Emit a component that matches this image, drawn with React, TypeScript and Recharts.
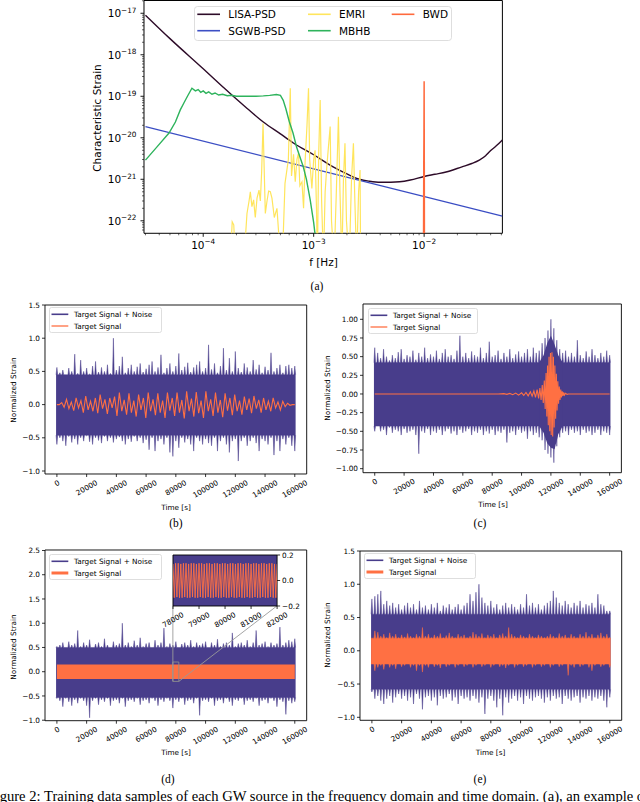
import React from 'react'
import {
  Area,
  ComposedChart,
  Line,
  ReferenceArea,
  ReferenceLine,
  XAxis,
  YAxis,
} from 'recharts'

const SANS = '"DejaVu Sans", Verdana, sans-serif'
const SERIF = '"Liberation Serif", "Times New Roman", serif'
const INK = '#000'
const NOISE = '#483d8b'
const SIGNAL = '#ff7043'

// ---------- (a) characteristic strain vs frequency, [f (Hz), h_c] ----------
const freqDomain = [2.91e-5, 5.11e-2]
const strainDomain = [5.0e-23, 2.03e-17]
const freqTicks = [
  3e-5, 4e-5, 5e-5, 6e-5, 7e-5, 8e-5, 9e-5, 1e-4, 2e-4, 3e-4, 4e-4, 5e-4, 6e-4, 7e-4, 8e-4, 9e-4,
  1e-3, 2e-3, 3e-3, 4e-3, 5e-3, 6e-3, 7e-3, 8e-3, 9e-3, 1e-2, 2e-2, 3e-2, 4e-2, 5e-2,
]
const strainTicks = [
  6e-23, 7e-23, 8e-23, 9e-23, 1e-22, 2e-22, 3e-22, 4e-22, 5e-22, 6e-22, 7e-22, 8e-22, 9e-22,
  1e-21, 2e-21, 3e-21, 4e-21, 5e-21, 6e-21, 7e-21, 8e-21, 9e-21,
  1e-20, 2e-20, 3e-20, 4e-20, 5e-20, 6e-20, 7e-20, 8e-20, 9e-20,
  1e-19, 2e-19, 3e-19, 4e-19, 5e-19, 6e-19, 7e-19, 8e-19, 9e-19,
  1e-18, 2e-18, 3e-18, 4e-18, 5e-18, 6e-18, 7e-18, 8e-18, 9e-18, 1e-17, 2e-17,
]

const lisaPsd = [
  [3e-5, 9.0e-18], [5e-5, 2.45e-18], [1e-4, 4.6e-19], [1.5e-4, 1.7e-19], [1.87e-4, 1.0e-19],
  [2.5e-4, 5.1e-20], [3.5e-4, 2.4e-20], [5e-4, 1.24e-20], [6.6e-4, 7.4e-21], [1e-3, 3.9e-21],
  [1.5e-3, 2.0e-21], [2.0e-3, 1.35e-21], [2.6e-3, 1.0e-21], [3.2e-3, 9.0e-22], [4e-3, 8.5e-22],
  [5e-3, 8.5e-22], [6e-3, 8.7e-22], [7.5e-3, 9.6e-22], [1e-2, 1.17e-21], [1.25e-2, 1.32e-21],
  [1.58e-2, 1.5e-21], [2.2e-2, 2.0e-21], [2.7e-2, 2.4e-21], [3.16e-2, 2.9e-21], [3.6e-2, 3.7e-21],
  [3.9e-2, 4.6e-21], [4.5e-2, 6.4e-21], [5.11e-2, 8.9e-21],
]
const sgwbPsd = [[3e-5, 1.86e-20], [1e-3, 1.79e-21], [5.11e-2, 1.3e-22]]
const emri = [
  [1.76e-4, 1e-23], [1.83e-4, 9.5e-23], [1.89e-4, 8e-23], [1.96e-4, 1e-23], [2.33e-4, 1e-23],
  [2.49e-4, 1.5e-22], [2.6e-4, 3e-22], [2.67e-4, 5e-22], [2.76e-4, 2.2e-22], [2.86e-4, 3.2e-22],
  [2.96e-4, 1.2e-22], [3.07e-4, 3.5e-22], [3.2e-4, 5.5e-22], [3.29e-4, 3e-22], [3.38e-4, 1.5e-21],
  [3.48e-4, 2.2e-20], [3.56e-4, 2e-21], [3.65e-4, 1.5e-22], [3.78e-4, 3e-22], [3.91e-4, 5.2e-22],
  [4.05e-4, 5e-22], [4.19e-4, 3.5e-22], [4.4e-4, 1.2e-22], [4.65e-4, 2e-22], [4.8e-4, 6e-23],
  [4.99e-4, 1e-23], [5.2e-4, 1e-23], [5.5e-4, 8e-22], [5.9e-4, 3e-21], [6.14e-4, 1.56e-19],
  [6.3e-4, 1.2e-21], [6.57e-4, 4e-21], [6.81e-4, 8.7e-22], [7.05e-4, 3e-21], [7.29e-4, 4.3e-21],
  [7.5e-4, 7e-22], [7.83e-4, 8.7e-22], [8.1e-4, 2e-22], [8.38e-4, 3e-21], [8.7e-4, 2e-20],
  [8.98e-4, 1.56e-19], [9.2e-4, 3e-21], [9.63e-4, 6e-22], [1.0e-3, 3e-21], [1.03e-3, 5e-21],
  [1.06e-3, 2e-22], [1.08e-3, 1e-23], [1.11e-3, 4e-21], [1.145e-3, 8.1e-20], [1.18e-3, 3e-22],
  [1.226e-3, 1e-23], [1.27e-3, 5e-22], [1.315e-3, 2e-21], [1.36e-3, 6e-21], [1.41e-3, 1.87e-20],
  [1.45e-3, 1e-22], [1.53e-3, 1e-23], [1.6e-3, 4e-22], [1.675e-3, 3.2e-20], [1.73e-3, 5e-22],
  [1.8e-3, 1e-23], [1.86e-3, 1e-21], [1.92e-3, 7.4e-21], [1.98e-3, 1e-22], [2.1e-3, 1e-23],
  [2.2e-3, 1e-21], [2.29e-3, 7.4e-21], [2.36e-3, 3e-22], [2.45e-3, 1e-23], [2.55e-3, 5e-22],
  [2.63e-3, 1.67e-21], [2.66e-3, 1e-23],
]
const mbhb = [
  [3e-5, 2.9e-21], [3.85e-5, 6.2e-21], [4.9e-5, 1.3e-20], [5.6e-5, 2.4e-20], [6.2e-5, 4.7e-20],
  [6.7e-5, 7e-20], [7.2e-5, 1e-19], [7.9e-5, 1.56e-19], [8.5e-5, 1.35e-19], [9e-5, 1.45e-19],
  [9.5e-5, 1.25e-19], [1.0e-4, 1.35e-19], [1.06e-4, 1.18e-19], [1.12e-4, 1.28e-19], [1.2e-4, 1.12e-19],
  [1.28e-4, 1.2e-19], [1.38e-4, 1.07e-19], [1.5e-4, 1.12e-19], [1.65e-4, 1.03e-19], [1.8e-4, 1.06e-19],
  [2.0e-4, 1.0e-19], [2.5e-4, 1.0e-19], [3.0e-4, 1.0e-19], [3.5e-4, 1.02e-19], [4.0e-4, 1.05e-19],
  [4.6e-4, 1.1e-19], [5.0e-4, 1.05e-19], [5.3e-4, 8e-20], [5.6e-4, 5e-20], [6.0e-4, 2.5e-20],
  [6.5e-4, 1.3e-20], [7.0e-4, 6e-21], [7.5e-4, 3.5e-21], [8.05e-4, 2e-21], [8.6e-4, 1e-21],
  [9.3e-4, 3.2e-22], [1.0e-3, 9e-23], [1.05e-3, 3e-23],
]
const bwd = [
  [9.86e-3, 1e-23], [9.92e-3, 2e-21], [9.96e-3, 1.2e-20], [1.0e-2, 2.3e-19], [1.003e-2, 3e-21], [1.007e-2, 1e-23],
]

const spectrumSeries = [
  { name: 'LISA-PSD', color: '#2d0b28', width: 1.4, data: lisaPsd, curve: 'monotone', col: 0, row: 0 },
  { name: 'SGWB-PSD', color: '#3c4fc4', width: 1.3, data: sgwbPsd, curve: 'linear', col: 0, row: 1 },
  { name: 'EMRI', color: '#ffe55c', width: 1.2, data: emri, curve: 'linear', col: 1, row: 0 },
  { name: 'MBHB', color: '#2eb35c', width: 1.4, data: mbhb, curve: 'linear', col: 1, row: 1 },
  { name: 'BWD', color: '#ff6a3d', width: 1.5, data: bwd, curve: 'linear', col: 2, row: 0 },
]

// ---------- (b)-(e) time domain ----------
const timeDomain = [-8000, 168000]
const timeTicks = [0, 20000, 40000, 60000, 80000, 100000, 120000, 140000, 160000]

// noise extremes, one sample every 2000 s; core = densely filled part of the band [low, high]
const noiseBHi = [
  0.56, 0.48, 0.52, 0.45, 0.55, 0.5, 0.76, 0.47, 0.67, 0.5, 0.55, 0.46, 0.58, 0.65, 0.49, 0.56, 0.5, 0.6, 0.47, 1.0,
  0.52, 0.58, 0.72, 0.48, 0.55, 0.6, 0.5, 0.57, 0.62, 0.49, 0.54, 0.6, 0.65, 0.5, 0.56, 0.75, 0.48, 0.55, 0.62, 0.5,
  0.58, 0.77, 0.52, 0.57, 0.63, 0.49, 0.56, 0.6, 0.65, 0.5, 0.55, 0.9, 0.53, 0.62, 0.48, 0.58, 0.85, 0.52, 0.7, 0.5,
  0.8, 0.55, 0.49, 0.62, 0.56, 0.5, 0.67, 0.53, 0.6, 0.48, 0.57, 0.52, 0.78, 0.5, 0.55, 0.6, 0.48, 0.58, 0.6, 0.55, 0.58,
]
const noiseBLo = [
  -0.6, -0.5, -0.55, -0.62, -0.48, -0.57, -0.52, -0.6, -0.5, -0.55, -0.47, -0.56, -0.6, -0.5, -0.54, -0.58, -0.48, -0.55, -0.5, -0.57,
  -0.52, -0.49, -0.55, -0.6, -0.52, -0.56, -0.48, -0.55, -0.5, -0.58, -0.53, -0.68, -0.5, -0.7, -0.55, -0.52, -0.6, -0.5, -0.72, -0.78,
  -0.55, -0.65, -0.5, -0.57, -0.52, -0.6, -0.7, -0.5, -0.55, -0.6, -0.52, -0.58, -0.62, -0.5, -0.7, -0.55, -0.5, -0.6, -0.72, -0.55,
  -0.52, -0.85, -0.55, -0.5, -0.62, -0.55, -0.5, -0.58, -0.7, -0.52, -0.55, -0.6, -0.5, -0.76, -0.55, -0.7, -0.52, -0.6, -0.5, -0.62, -0.7,
]
const coreB = [-0.46, 0.45]
// EMRI-like target signal, evenly spaced over 0-160000 s
const signalB = [
  0, 0, 0.03, -0.04, 0.08, -0.06, 0.04, -0.09, 0.1, -0.05,
  0.06, -0.12, 0.13, -0.08, 0.05, -0.1, 0.1, -0.13, 0.15, -0.06,
  0.08, -0.14, 0.1, -0.05, 0.12, -0.17, 0.18, -0.1, 0.07, -0.15,
  0.17, -0.12, 0.06, -0.18, 0.15, -0.08, 0.1, -0.2, 0.18, -0.1,
  0.08, -0.16, 0.17, -0.12, 0.06, -0.2, 0.18, -0.09, 0.1, -0.17,
  0.18, -0.12, 0.07, -0.21, 0.2, -0.1, 0.09, -0.18, 0.19, -0.13,
  0.06, -0.2, 0.2, -0.1, 0.08, -0.17, 0.18, -0.12, 0.07, -0.19,
  0.17, -0.09, 0.1, -0.16, 0.15, -0.1, 0.06, -0.15, 0.12, -0.08,
  0.09, -0.13, 0.13, -0.06, 0.07, -0.12, 0.1, -0.08, 0.05, -0.1,
  0.1, -0.05, 0.04, -0.08, 0.05, -0.03, 0.02, -0.01, 0, 0,
]

const noiseCHi = [
  0.62, 0.55, 0.48, 0.6, 0.5, 0.45, 0.52, 0.48, 0.56, 0.6, 0.47, 0.52, 0.5, 0.58, 0.46, 0.55, 0.5, 0.62, 0.48, 0.53,
  0.5, 0.58, 0.47, 0.55, 0.6, 0.5, 0.52, 0.47, 0.58, 0.78, 0.5, 0.55, 0.48, 0.57, 0.52, 0.5, 0.62, 0.48, 0.55, 0.7,
  0.5, 0.52, 0.58, 0.47, 0.55, 0.5, 0.6, 0.48, 0.53, 0.57, 0.5, 0.55, 0.6, 0.5, 0.62, 0.55, 0.58, 0.68, 0.75, 0.85,
  1.0, 0.88, 0.72, 0.6, 0.55, 0.58, 0.5, 0.55, 0.5, 0.72, 0.52, 0.48, 0.57, 0.5, 0.6, 0.52, 0.48, 0.55, 0.5, 0.58, 0.52,
]
const noiseCLo = [
  -0.5, -0.42, -0.5, -0.48, -0.55, -0.45, -0.52, -0.48, -0.5, -0.55, -0.47, -0.52, -0.5, -0.48, -0.55, -0.8, -0.5, -0.52, -0.47, -0.55,
  -0.5, -0.52, -0.48, -0.55, -0.5, -0.47, -0.53, -0.5, -0.55, -0.48, -0.52, -0.5, -0.47, -0.55, -0.5, -0.52, -0.48, -0.55, -0.5, -0.53,
  -0.48, -0.55, -0.5, -0.52, -0.48, -0.65, -0.52, -0.5, -0.55, -0.48, -0.52, -0.5, -0.6, -0.5, -0.55, -0.52, -0.58, -0.62, -0.75, -0.8,
  -0.85, -0.92, -0.7, -0.58, -0.52, -0.5, -0.55, -0.48, -0.52, -0.5, -0.55, -0.48, -0.52, -0.5, -0.55, -0.52, -0.48, -0.55, -0.5, -0.52, -0.55,
]
const coreC = [-0.43, 0.42]
// the merger burst widens the dense part of the noise band, [t, low, high]
const burstC = [
  [112000, -0.43, 0.42], [115000, -0.52, 0.52], [117500, -0.66, 0.68], [120000, -0.72, 0.78],
  [122500, -0.74, 0.66], [125000, -0.54, 0.52], [128000, -0.43, 0.42],
]
// MBHB chirp, [t (s), strain]
const signalC = [
  [0, 0], [84000, 0], [88000, 0.005], [90000, -0.005], [92000, 0.008], [94000, -0.01], [96000, 0.012],
  [98000, -0.015], [100000, 0.015], [101500, -0.02], [103000, 0.02], [104500, -0.025], [106000, 0.03],
  [107200, -0.03], [108400, 0.04], [109500, -0.045], [110600, 0.06], [111600, -0.06], [112500, 0.08],
  [113300, -0.08], [114100, 0.12], [114800, -0.12], [115500, 0.18], [116100, -0.2], [116700, 0.28],
  [117200, -0.3], [117700, 0.38], [118200, -0.42], [118700, 0.5], [119200, -0.5], [119700, 0.55],
  [120200, -0.55], [120700, 0.56], [121200, -0.57], [121700, 0.5], [122200, -0.45], [122700, 0.38],
  [123200, -0.33], [123700, 0.27], [124200, -0.22], [124700, 0.17], [125200, -0.13], [125700, 0.1],
  [126200, -0.08], [126700, 0.06], [127200, -0.045], [127700, 0.035], [128200, -0.025], [128700, 0.02],
  [129200, -0.015], [130000, 0.01], [131000, -0.005], [132000, 0], [160000, 0],
]

const noiseDHi = [
  0.52, 0.55, 0.6, 0.5, 0.62, 0.55, 0.58, 0.85, 0.52, 0.6, 0.55, 0.66, 0.5, 0.57, 0.6, 0.52, 0.68, 0.55, 0.5, 0.62,
  0.55, 0.58, 1.0, 0.55, 0.6, 0.52, 0.64, 0.55, 0.7, 0.52, 0.58, 0.6, 0.5, 0.65, 0.55, 0.6, 0.9, 0.52, 0.58, 0.55,
  0.62, 0.5, 0.57, 0.6, 0.55, 0.65, 0.52, 0.6, 0.55, 0.58, 0.62, 0.5, 0.6, 0.55, 0.67, 0.52, 0.58, 0.6, 0.55, 0.8,
  0.52, 0.58, 0.6, 0.55, 0.65, 0.52, 0.6, 0.85, 0.55, 0.58, 0.62, 0.52, 0.6, 0.55, 0.58, 0.92, 0.55, 0.6, 0.65, 0.62, 0.68,
]
const noiseDLo = [
  -0.55, -0.6, -0.72, -0.55, -0.62, -0.7, -0.58, -0.65, -0.55, -0.6, -0.7, -0.95, -0.6, -0.55, -0.68, -0.58, -0.62, -0.55, -0.7, -0.6,
  -0.58, -0.65, -0.55, -0.72, -0.6, -0.58, -0.62, -0.55, -0.68, -0.6, -0.58, -0.65, -0.55, -0.6, -0.7, -0.58, -0.62, -0.55, -0.6, -0.75,
  -0.58, -0.62, -0.55, -0.68, -0.6, -0.58, -0.65, -0.55, -0.9, -0.6, -0.58, -0.62, -0.55, -0.7, -0.6, -0.58, -0.65, -0.55, -0.62, -0.7,
  -0.58, -0.6, -0.55, -0.68, -0.6, -0.58, -0.62, -0.55, -0.7, -0.6, -0.58, -0.65, -0.55, -0.6, -0.72, -0.58, -0.62, -0.88, -0.6, -0.65, -0.62,
]
const coreD = [-0.53, 0.5]
// BWD target: constant-amplitude band over the full span, [t, low, high]
const signalD = [[0, -0.15, 0.15], [160000, -0.15, 0.15]]

// zoomed inset of (d)
const insetTime = [78000, 82000]
const insetTicks = [78000, 79000, 80000, 81000, 82000]
const insetNoise = [[78000, -0.5, 0.5], [82000, -0.5, 0.5]]
// one sample every 50 s over 78000-82000 s
const insetSignal = [
  0.13, -0.135, 0.135, -0.13, 0.135, -0.135, 0.13, -0.135, 0.135, -0.13,
  0.135, -0.135, 0.13, -0.135, 0.135, -0.13, 0.135, -0.135, 0.13, -0.135,
  0.135, -0.13, 0.135, -0.135, 0.13, -0.135, 0.135, -0.13, 0.135, -0.135,
  0.13, -0.135, 0.135, -0.13, 0.135, -0.135, 0.13, -0.135, 0.135, -0.13,
  0.135, -0.135, 0.13, -0.135, 0.135, -0.13, 0.135, -0.135, 0.13, -0.135,
  0.135, -0.13, 0.135, -0.135, 0.13, -0.135, 0.135, -0.13, 0.135, -0.135,
  0.13, -0.135, 0.135, -0.13, 0.135, -0.135, 0.13, -0.135, 0.135, -0.13,
  0.135, -0.135, 0.13, -0.135, 0.135, -0.13, 0.135, -0.135, 0.13, -0.135, 0.13,
]
// inset box corners expressed in the (d) axes
const insetCornerY = 1.357
const insetRightT = 148000

const noiseEHi = [
  0.78, 0.82, 0.85, 0.9, 0.7, 0.75, 0.68, 0.72, 0.65, 0.7, 0.62, 0.68, 0.72, 0.65, 0.7, 0.62, 0.75, 0.65, 0.68, 0.62,
  0.7, 0.65, 0.72, 0.6, 0.68, 0.65, 0.7, 0.62, 0.66, 0.7, 0.62, 0.68, 0.72, 0.85, 0.75, 0.88, 1.0, 0.8, 0.72, 0.68,
  0.75, 0.65, 0.7, 0.62, 0.68, 0.72, 0.65, 0.7, 0.66, 0.62, 0.7, 0.65, 0.85, 0.68, 0.72, 0.65, 0.7, 0.62, 0.68, 0.72,
  0.75, 0.9, 0.8, 0.72, 0.68, 0.75, 0.7, 0.65, 0.72, 0.68, 0.75, 0.65, 0.7, 0.68, 0.72, 0.65, 0.85, 0.7, 0.68, 0.6, 0.6,
]
const noiseELo = [
  -0.62, -0.72, -0.68, -0.75, -0.8, -0.72, -0.68, -0.78, -0.7, -0.65, -0.72, -0.68, -0.75, -0.7, -0.8, -0.65, -0.72, -0.88, -0.7, -0.68,
  -0.75, -0.7, -0.82, -0.68, -0.72, -0.7, -0.65, -0.75, -0.7, -0.8, -0.68, -0.72, -0.7, -0.75, -0.68, -0.72, -0.78, -0.7, -0.95, -0.72,
  -0.68, -0.75, -0.85, -0.72, -0.97, -0.7, -0.78, -0.72, -0.68, -0.75, -0.7, -0.8, -0.68, -0.72, -0.75, -0.7, -0.68, -0.72, -0.78, -0.7,
  -0.75, -0.68, -0.72, -0.7, -0.8, -0.68, -0.72, -0.75, -0.7, -0.68, -0.78, -0.7, -0.72, -0.68, -0.75, -0.7, -0.72, -0.68, -0.75, -0.85, -0.7,
]
const coreE = [-0.58, 0.55]
const signalEHi = [
  0.15, 0.3, 0.28, 0.22, 0.25, 0.2, 0.27, 0.22, 0.25, 0.2, 0.24, 0.21, 0.26, 0.22, 0.2, 0.25, 0.22, 0.35, 0.22, 0.25,
  0.2, 0.24, 0.22, 0.26, 0.2, 0.23, 0.27, 0.22, 0.2, 0.25, 0.22, 0.24, 0.2, 0.22, 0.28, 0.25, 0.22, 0.26, 0.2, 0.24,
  0.22, 0.25, 0.2, 0.24, 0.26, 0.22, 0.35, 0.25, 0.22, 0.2, 0.24, 0.22, 0.2, 0.25, 0.22, 0.2, 0.24, 0.22, 0.2, 0.22,
  0.25, 0.22, 0.2, 0.26, 0.22, 0.24, 0.2, 0.25, 0.22, 0.2, 0.25, 0.22, 0.28, 0.22, 0.25, 0.2, 0.24, 0.27, 0.22, 0.25, 0.2,
]
const signalELo = [
  -0.12, -0.3, -0.25, -0.22, -0.28, -0.2, -0.25, -0.22, -0.27, -0.2, -0.24, -0.22, -0.2, -0.25, -0.22, -0.3, -0.22, -0.32, -0.22, -0.25,
  -0.2, -0.24, -0.22, -0.26, -0.2, -0.24, -0.22, -0.2, -0.25, -0.22, -0.2, -0.24, -0.22, -0.2, -0.25, -0.22, -0.2, -0.24, -0.22, -0.2,
  -0.25, -0.22, -0.2, -0.24, -0.22, -0.26, -0.22, -0.2, -0.25, -0.22, -0.2, -0.24, -0.22, -0.2, -0.25, -0.22, -0.2, -0.24, -0.22, -0.2,
  -0.25, -0.22, -0.2, -0.24, -0.22, -0.2, -0.37, -0.22, -0.25, -0.2, -0.24, -0.22, -0.2, -0.25, -0.3, -0.22, -0.2, -0.24, -0.22, -0.2, -0.25,
]
const signalECore = [-0.2, 0.19]

// ---------- helpers ----------
// each sample becomes a narrow spike rising out of the dense core of the band
const spiky = (hi: number[], lo: number[], step: number, core: number[], half = 550) =>
  hi.flatMap((h, i) => {
    const t = i * step
    return [
      { t: t - half, r: [core[0], core[1]] },
      { t, r: [Math.min(lo[i], core[0]), Math.max(h, core[1])] },
      { t: t + half, r: [core[0], core[1]] },
    ]
  })
const trace = (vals: number[], t0: number, t1: number) =>
  vals.map((v, i) => ({ t: t0 + (i * (t1 - t0)) / (vals.length - 1), v }))
const pairs = (rows: number[][]) => rows.map(([t, v]) => ({ t, v }))
const ranges = (rows: number[][]) => rows.map(([t, lo, hi]) => ({ t, r: [lo, hi] }))
const fmt = (v: number, digits: number) => {
  const s = Math.abs(v).toFixed(digits)
  return v < -1e-9 ? `\u2212${s}` : s
}

function RotTick(props: any) {
  const { x, y, payload } = props
  const fs = 7.3
  const s = String(payload.value)
  const w = s.length * 0.636 * fs
  const bh = w * 0.5 + fs * 1.15 * 0.866
  return (
    <text
      x={0}
      y={0}
      transform={`translate(${x},${y + 1.3 + bh / 2}) rotate(-30)`}
      textAnchor="middle"
      dominantBaseline="central"
      fontSize={fs}
      fontFamily={SANS}
      fill={INK}
    >
      {s}
    </text>
  )
}

const isDecade = (v: number) => {
  const l = Math.log10(v)
  return Math.abs(l - Math.round(l)) < 1e-6
}

function LogTickX(props: any) {
  const { x, y, payload } = props
  const major = isDecade(payload.value)
  const e = Math.round(Math.log10(payload.value))
  return (
    <g>
      <line x1={x} x2={x} y1={y} y2={y + (major ? 3.5 : 2)} stroke={INK} strokeWidth={major ? 0.9 : 0.6} />
      {major && (
        <text x={x} y={y + 15.5} textAnchor="middle" fontSize={10.5} fontFamily={SANS} fill={INK}>
          10
          <tspan dy={-4.5} fontSize={7.3}>{`\u2212${-e}`}</tspan>
        </text>
      )}
    </g>
  )
}

function LogTickY(props: any) {
  const { x, y, payload } = props
  const major = isDecade(payload.value)
  const e = Math.round(Math.log10(payload.value))
  return (
    <g>
      <line x1={x} x2={x - (major ? 3.5 : 2)} y1={y} y2={y} stroke={INK} strokeWidth={major ? 0.9 : 0.6} />
      {major && (
        <text x={x - 7.5} y={y + 4} textAnchor="end" fontSize={10.5} fontFamily={SANS} fill={INK}>
          10
          <tspan dy={-4.5} fontSize={7.3}>{`\u2212${-e}`}</tspan>
        </text>
      )}
    </g>
  )
}

function Title({ x, y, text, rotate = false, size = 7.3, font = SANS }: any) {
  return (
    <div
      style={{
        position: 'absolute',
        left: x,
        top: y,
        transform: `translate(-50%, -50%)${rotate ? ' rotate(-90deg)' : ''}`,
        fontFamily: font,
        fontSize: size,
        whiteSpace: 'nowrap',
        lineHeight: 1,
        color: INK,
      }}
    >
      {text}
    </div>
  )
}

function TimeLegend({ left, top, width, signalWidth }: any) {
  const rows = [
    { label: 'Target Signal + Noise', color: NOISE, lw: 1.6 },
    { label: 'Target Signal', color: SIGNAL, lw: signalWidth },
  ]
  return (
    <svg width={width} height={26} style={{ position: 'absolute', left, top, overflow: 'visible' }}>
      <rect x={0.5} y={0.5} width={width - 1} height={25} rx={2} fill="#fff" fillOpacity={0.85} stroke="#d6d6d6" strokeWidth={0.8} />
      {rows.map((r, i) => (
        <g key={r.label}>
          <line x1={2.5} x2={19.3} y1={7.3 + i * 11.7} y2={7.3 + i * 11.7} stroke={r.color} strokeWidth={r.lw} />
          <text x={25} y={7.3 + i * 11.7 + 2.6} fontSize={7.3} fontFamily={SANS} fill={INK}>
            {r.label}
          </text>
        </g>
      ))}
    </svg>
  )
}

function SpectrumChart() {
  const padL = 60
  const left = 144.3
  const top = 0.5
  const w = 358.4
  const h = 232.8
  const colX = [3.3, 114, 197.7]
  return (
    <>
      <div style={{ position: 'absolute', left: left - padL, top: 0 }}>
        <ComposedChart width={padL + w + 5} height={top + h + 40} margin={{ top, right: 5, bottom: 0, left: 0 }}>
          <XAxis
            dataKey="f"
            type="number"
            scale="log"
            domain={freqDomain}
            ticks={freqTicks}
            interval={0}
            allowDataOverflow
            height={40}
            tickSize={0}
            tickMargin={0}
            axisLine={false}
            tickLine={false}
            tick={<LogTickX />}
          />
          <YAxis
            type="number"
            scale="log"
            domain={strainDomain}
            ticks={strainTicks}
            interval={0}
            allowDataOverflow
            width={padL}
            tickSize={0}
            tickMargin={0}
            axisLine={false}
            tickLine={false}
            tick={<LogTickY />}
          />
          {spectrumSeries.map((s) => (
            <Line
              key={s.name}
              data={s.data.map(([f, v]) => ({ f, h: v }))}
              dataKey="h"
              type={s.curve as any}
              stroke={s.color}
              strokeWidth={s.width}
              dot={false}
              isAnimationActive={false}
            />
          ))}
          <ReferenceArea
            x1={freqDomain[0]}
            x2={freqDomain[1]}
            y1={strainDomain[0]}
            y2={strainDomain[1]}
            fill="none"
            stroke={INK}
            strokeWidth={1}
            ifOverflow="visible"
          />
        </ComposedChart>
      </div>
      <svg width={258} height={35} style={{ position: 'absolute', left: 194, top: 6, overflow: 'visible' }}>
        <rect x={0.5} y={0.5} width={257} height={34} rx={3} fill="#fff" fillOpacity={0.85} stroke="#d6d6d6" strokeWidth={0.8} />
        {spectrumSeries.map((s) => {
          const x = colX[s.col]
          const y = 8.3 + s.row * 16.4
          return (
            <g key={s.name}>
              <line x1={x} x2={x + 22.7} y1={y} y2={y} stroke={s.color} strokeWidth={1.6} />
              <text x={x + 31} y={y + 3.8} fontSize={10.5} fontFamily={SANS} fill={INK}>
                {s.name}
              </text>
            </g>
          )
        })}
      </svg>
      <Title x={323.5} y={261.5} text="f [Hz]" size={10.5} />
      <Title x={97} y={117.5} text="Characteristic Strain" size={10.5} rotate />
    </>
  )
}

type PanelProps = {
  left: number
  top: number
  width: number
  height: number
  yDomain: number[]
  yTicks: number[]
  digits: number
  children?: React.ReactNode
}

function Panel({ left, top, width, height, yDomain, yTicks, digits, children }: PanelProps) {
  const padL = 40
  const padT = 5
  return (
    <div style={{ position: 'absolute', left: left - padL, top: top - padT }}>
      <ComposedChart width={padL + width + 5} height={padT + height + 40} margin={{ top: padT, right: 5, bottom: 0, left: 0 }}>
        <XAxis
          dataKey="t"
          type="number"
          domain={timeDomain}
          ticks={timeTicks}
          interval={0}
          allowDataOverflow
          height={40}
          tickSize={3}
          tickMargin={0}
          axisLine={false}
          tickLine={{ stroke: INK, strokeWidth: 0.8 }}
          tick={<RotTick />}
        />
        <YAxis
          type="number"
          domain={yDomain}
          ticks={yTicks}
          interval={0}
          allowDataOverflow
          width={padL}
          tickSize={3}
          tickMargin={2}
          axisLine={false}
          tickLine={{ stroke: INK, strokeWidth: 0.8 }}
          tick={{ fontSize: 7.3, fill: INK, fontFamily: SANS }}
          tickFormatter={(v: number) => fmt(v, digits)}
        />
        {children}
        <ReferenceArea
          x1={timeDomain[0]}
          x2={timeDomain[1]}
          y1={yDomain[0]}
          y2={yDomain[1]}
          fill="none"
          stroke={INK}
          strokeWidth={0.9}
          ifOverflow="visible"
        />
      </ComposedChart>
    </div>
  )
}

function Inset() {
  const left = 173.2
  const top = 555
  const w = 104.1
  const h = 51
  const padL = 20
  const padT = 6
  const yDomain = [-0.2, 0.2]
  return (
    <div style={{ position: 'absolute', left: left - padL, top: top - padT }}>
      <ComposedChart width={padL + w + 30} height={padT + h + 30} margin={{ top: padT, right: 0, bottom: 0, left: padL }}>
        <XAxis
          dataKey="t"
          type="number"
          domain={insetTime}
          ticks={insetTicks}
          interval={0}
          allowDataOverflow
          height={30}
          tickSize={3}
          tickMargin={0}
          axisLine={false}
          tickLine={{ stroke: INK, strokeWidth: 0.8 }}
          tick={<RotTick />}
        />
        <YAxis
          orientation="right"
          type="number"
          domain={yDomain}
          ticks={[-0.2, 0, 0.2]}
          interval={0}
          allowDataOverflow
          width={30}
          tickSize={3}
          tickMargin={2}
          axisLine={false}
          tickLine={{ stroke: INK, strokeWidth: 0.8 }}
          tick={{ fontSize: 7.3, fill: INK, fontFamily: SANS }}
          tickFormatter={(v: number) => fmt(v, 1)}
        />
        <Area
          data={ranges(insetNoise)}
          dataKey="r"
          type="linear"
          stroke={NOISE}
          strokeWidth={0.6}
          fill={NOISE}
          fillOpacity={1}
          isAnimationActive={false}
        />
        <Line
          data={trace(insetSignal, insetTime[0], insetTime[1])}
          dataKey="v"
          type="linear"
          stroke={SIGNAL}
          strokeWidth={0.9}
          dot={false}
          isAnimationActive={false}
        />
        <ReferenceArea
          x1={insetTime[0]}
          x2={insetTime[1]}
          y1={yDomain[0]}
          y2={yDomain[1]}
          fill="none"
          stroke={INK}
          strokeWidth={0.9}
          ifOverflow="visible"
        />
      </ComposedChart>
    </div>
  )
}

const band = (data: any[], color: string, lw = 0.5) => (
  <Area
    data={data}
    dataKey="r"
    type="linear"
    stroke={color}
    strokeWidth={lw}
    fill={color}
    fillOpacity={1}
    isAnimationActive={false}
  />
)

export default function App() {
  return (
    <div
      style={{
        position: 'absolute',
        left: 0,
        top: 0,
        width: 640,
        height: 802,
        overflow: 'hidden',
        background: '#fff',
      }}
    >
      <SpectrumChart />
      <Title x={317} y={287} text="(a)" size={11.5} font={SERIF} />

      {/* (b) EMRI */}
      <Panel left={45} top={305} width={261.7} height={169} yDomain={[-1.045, 1.5]} yTicks={[-1, -0.5, 0, 0.5, 1, 1.5]} digits={1}>
        {band(spiky(noiseBHi, noiseBLo, 2000, coreB), NOISE)}
        <Line data={trace(signalB, 0, 160000)} dataKey="v" type="linear" stroke={SIGNAL} strokeWidth={1.1} dot={false} isAnimationActive={false} />
      </Panel>
      <TimeLegend left={49} top={307} width={113} signalWidth={1.3} />
      <Title x={176} y={508} text="Time [s]" />
      <Title x={14} y={390} text="Normalized Strain" rotate />
      <Title x={176} y={524} text="(b)" size={11.5} font={SERIF} />

      {/* (c) MBHB */}
      <Panel left={363.3} top={304} width={258.4} height={168.7} yDomain={[-1.054, 1.205]} yTicks={[-1, -0.75, -0.5, -0.25, 0, 0.25, 0.5, 0.75, 1]} digits={2}>
        {band(spiky(noiseCHi, noiseCLo, 2000, coreC), NOISE)}
        {band(ranges(burstC), NOISE, 0)}
        <Line data={pairs(signalC)} dataKey="v" type="linear" stroke={SIGNAL} strokeWidth={1.1} dot={false} isAnimationActive={false} />
      </Panel>
      <TimeLegend left={368.3} top={308} width={110} signalWidth={1.3} />
      <Title x={493} y={504.5} text="Time [s]" />
      <Title x={327.5} y={388} text="Normalized Strain" rotate />
      <Title x={480} y={524} text="(c)" size={11.5} font={SERIF} />

      {/* (d) BWD */}
      <Panel left={45} top={550} width={261.7} height={170.7} yDomain={[-1.01, 2.51]} yTicks={[-1, -0.5, 0, 0.5, 1, 1.5, 2, 2.5]} digits={1}>
        {band(spiky(noiseDHi, noiseDLo, 2000, coreD), NOISE)}
        {band(ranges(signalD), SIGNAL, 0)}
        <ReferenceArea x1={insetTime[0]} x2={insetTime[1]} y1={-0.2} y2={0.2} fill="none" stroke="#8c8c8c" strokeWidth={0.9} ifOverflow="visible" />
        <ReferenceLine
          segment={[{ x: insetTime[0], y: -0.2 }, { x: insetTime[0], y: insetCornerY }]}
          stroke="#9a9a9a"
          strokeWidth={0.9}
          ifOverflow="visible"
        />
        <ReferenceLine
          segment={[{ x: insetTime[1], y: -0.2 }, { x: insetRightT, y: insetCornerY }]}
          stroke="#9a9a9a"
          strokeWidth={0.9}
          ifOverflow="visible"
        />
      </Panel>
      <Inset />
      <TimeLegend left={49.3} top={554} width={113} signalWidth={3} />
      <Title x={176} y={752.5} text="Time [s]" />
      <Title x={14} y={646.5} text="Normalized Strain" rotate />
      <Title x={168} y={779.5} text="(d)" size={11.5} font={SERIF} />

      {/* (e) SGWB */}
      <Panel left={360} top={550.7} width={261.7} height={169.3} yDomain={[-1.045, 1.5]} yTicks={[-1, -0.5, 0, 0.5, 1, 1.5]} digits={1}>
        {band(spiky(noiseEHi, noiseELo, 2000, coreE), NOISE)}
        {band(spiky(signalEHi, signalELo, 2000, signalECore), SIGNAL)}
      </Panel>
      <TimeLegend left={363.5} top={552.5} width={112} signalWidth={3} />
      <Title x={490.5} y={752.5} text="Time [s]" />
      <Title x={327.5} y={635} text="Normalized Strain" rotate />
      <Title x={480} y={779.5} text="(e)" size={11.5} font={SERIF} />

      <div
        style={{
          position: 'absolute',
          left: -12.5,
          top: 787.6,
          fontFamily: SERIF,
          fontSize: 14.6,
          whiteSpace: 'nowrap',
          lineHeight: '16px',
          color: INK,
        }}
      >
        Figure 2: Training data samples of each GW source in the frequency domain and time domain. (a), an example of
      </div>
    </div>
  )
}
